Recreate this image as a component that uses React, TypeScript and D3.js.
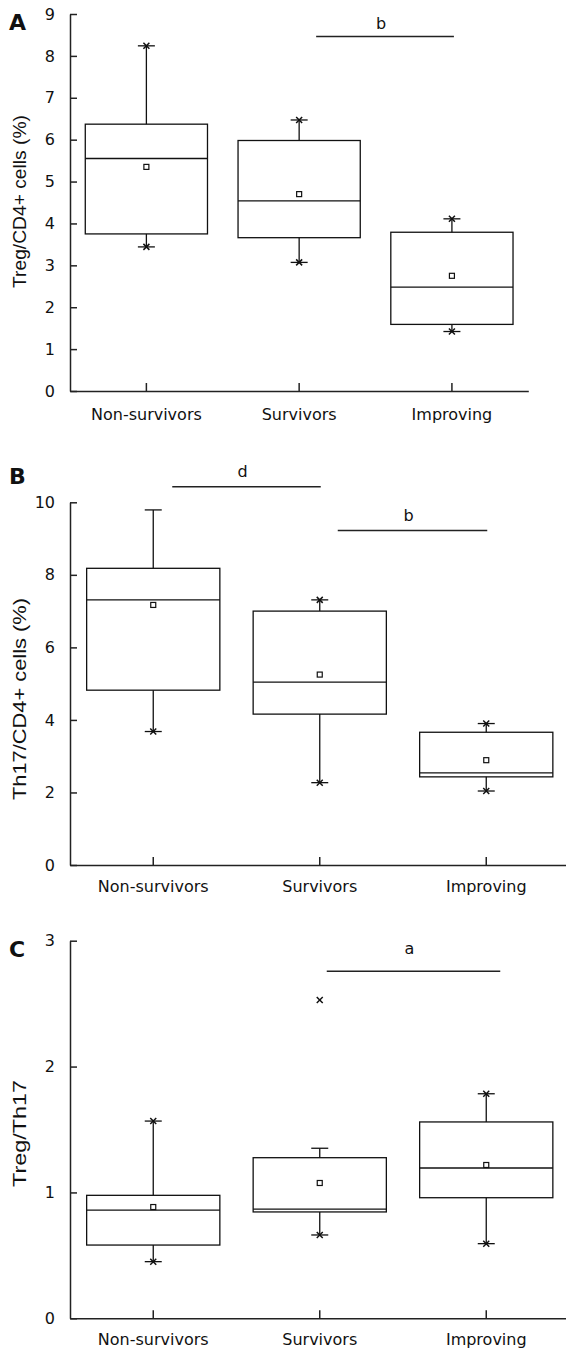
import React, { useRef, useEffect } from 'react';
import * as d3 from 'd3';

const categories = ['Non-survivors', 'Survivors', 'Improving'];

// A: Treg/CD4+ cells (%)
const tregLow = [3.44, 3.07, 1.42];
const tregQ1 = [3.75, 3.66, 1.59];
const tregMedian = [5.55, 4.54, 2.48];
const tregQ3 = [6.37, 5.98, 3.79];
const tregHigh = [8.24, 6.47, 4.11];
const tregMean = [5.35, 4.7, 2.75];
const tregCrosses = [[3.44, 8.24], [3.07, 6.47], [1.42, 4.11]];
const tregTicks = [0, 1, 2, 3, 4, 5, 6, 7, 8, 9];
const tregSig = [{ from: 'Survivors', to: 'Improving', value: 8.46, label: 'b' }];

// B: Th17/CD4+ cells (%)
const th17Low = [3.68, 2.27, 2.04];
const th17Q1 = [4.82, 4.16, 2.43];
const th17Median = [7.31, 5.04, 2.54];
const th17Q3 = [8.18, 7.0, 3.66];
const th17High = [9.79, 7.31, 3.9];
const th17Mean = [7.17, 5.25, 2.89];
const th17Crosses = [[3.68], [2.27, 7.31], [2.04, 3.9]];
const th17Ticks = [0, 2, 4, 6, 8, 10];
const th17Sig = [
  { from: 'Non-survivors', to: 'Survivors', value: 10.43, label: 'd' },
  { from: 'Survivors', to: 'Improving', value: 9.22, label: 'b' },
];

// C: Treg/Th17
const ratioLow = [0.45, 0.662, 0.593];
const ratioQ1 = [0.582, 0.845, 0.958];
const ratioMedian = [0.86, 0.868, 1.194];
const ratioQ3 = [0.977, 1.276, 1.56];
const ratioHigh = [1.567, 1.351, 1.784];
const ratioMean = [0.884, 1.075, 1.218];
const ratioCrosses = [[0.45, 1.567], [0.662, 2.529], [0.593, 1.784]];
const ratioTicks = [0, 1, 2, 3];
const ratioSig = [{ from: 'Survivors', to: 'Improving', value: 2.757, label: 'a' }];

const W = 566;
const H = 1349;
const tickFont = '"DejaVu Sans", Verdana, sans-serif';
const titleFont = '"Liberation Sans", Arial, sans-serif';

const panels = [
  {
    letter: 'A', letterY: 30, title: 'Treg/CD4+ cells (%)', titleY: 201.5, titleLen: 173,
    top: 14, bottom: 391, right: 528.3, domain: [0, 9], ticks: tregTicks,
    low: tregLow, q1: tregQ1, median: tregMedian, q3: tregQ3, high: tregHigh, mean: tregMean,
    crosses: tregCrosses, sig: tregSig, sigInset: [[17, 2]], sigGap: 8, catGap: 28.7,
  },
  {
    letter: 'B', letterY: 484, title: 'Th17/CD4+ cells (%)', titleY: 699, titleLen: 202,
    top: 502.3, bottom: 865, right: 569.5, domain: [0, 10], ticks: th17Ticks,
    low: th17Low, q1: th17Q1, median: th17Median, q3: th17Q3, high: th17High, mean: th17Mean,
    crosses: th17Crosses, sig: th17Sig, sigInset: [[19, 1], [18, 1]], sigGap: 10, catGap: 27,
  },
  {
    letter: 'C', letterY: 957, title: 'Treg/Th17', titleY: 1133.5, titleLen: 107,
    top: 940.7, bottom: 1318.3, right: 569.5, domain: [0, 3], ticks: ratioTicks,
    low: ratioLow, q1: ratioQ1, median: ratioMedian, q3: ratioQ3, high: ratioHigh, mean: ratioMean,
    crosses: ratioCrosses, sig: ratioSig, sigInset: [[7, 14]], sigGap: 17.5, catGap: 26.7,
  },
];

export default function App() {
  const ref = useRef<SVGSVGElement>(null);

  useEffect(() => {
    if (!ref.current) return;
    const svg = d3.select(ref.current);
    svg.selectAll('*').remove();
    const left = 70;

    panels.forEach((p) => {
      const g = svg.append('g');
      const x = d3.scaleBand<string>().domain(categories).range([left, p.right]);
      const y = d3.scaleLinear().domain(p.domain).range([p.bottom, p.top]);
      const cx = (c: string) => (x(c) ?? 0) + x.bandwidth() / 2;
      const bw = x.bandwidth() * 0.8;

      // axes
      const yAxis = g.append('g').attr('transform', `translate(${left},0)`)
        .call(d3.axisLeft(y).tickValues(p.ticks).tickFormat(d3.format('d')).tickSize(-7).tickPadding(15).tickSizeOuter(0));
      yAxis.select('.domain').attr('stroke', '#222').attr('stroke-width', 1.5);
      yAxis.selectAll('.tick line').attr('stroke', '#222').attr('stroke-width', 1.5);
      yAxis.selectAll('.tick text').attr('font-family', tickFont).attr('font-size', 16).attr('fill', '#111');

      const xAxis = g.append('g').attr('transform', `translate(0,${p.bottom})`)
        .call(d3.axisBottom(x).tickSize(-8).tickPadding(0).tickSizeOuter(0));
      xAxis.select('.domain').attr('stroke', '#222').attr('stroke-width', 1.5);
      xAxis.selectAll('.tick line').attr('stroke', '#222').attr('stroke-width', 1.5);
      xAxis.selectAll('.tick text').attr('font-family', tickFont).attr('font-size', 16).attr('fill', '#111')
        .attr('dy', null).attr('y', p.catGap);

      // panel letter and axis title
      g.append('text').attr('x', 9).attr('y', p.letterY).text(p.letter)
        .attr('font-family', tickFont).attr('font-weight', 'bold').attr('font-size', 22).attr('fill', '#111');
      g.append('text').attr('transform', `translate(26,${p.titleY}) rotate(-90)`)
        .attr('text-anchor', 'middle').attr('font-family', titleFont).attr('font-size', 19).attr('fill', '#111')
        .attr('textLength', p.titleLen).attr('lengthAdjust', 'spacingAndGlyphs').text(p.title);

      // boxes
      categories.forEach((c, i) => {
        const xc = cx(c);
        const line = (x1: number, y1: number, x2: number, y2: number) =>
          g.append('line').attr('x1', x1).attr('y1', y1).attr('x2', x2).attr('y2', y2)
            .attr('stroke', '#111').attr('stroke-width', 1.3);
        line(xc, y(p.high[i]), xc, y(p.q3[i]));
        line(xc, y(p.q1[i]), xc, y(p.low[i]));
        line(xc - 8.5, y(p.high[i]), xc + 8.5, y(p.high[i]));
        line(xc - 8.5, y(p.low[i]), xc + 8.5, y(p.low[i]));
        g.append('rect').attr('x', xc - bw / 2).attr('y', y(p.q3[i]))
          .attr('width', bw).attr('height', y(p.q1[i]) - y(p.q3[i]))
          .attr('fill', 'none').attr('stroke', '#111').attr('stroke-width', 1.3);
        line(xc - bw / 2, y(p.median[i]), xc + bw / 2, y(p.median[i]));
        g.append('rect').attr('x', xc - 2.5).attr('y', y(p.mean[i]) - 2.5).attr('width', 5).attr('height', 5)
          .attr('fill', '#fff').attr('stroke', '#111').attr('stroke-width', 1.2);
        p.crosses[i].forEach((v) => {
          const yy = y(v);
          line(xc - 3, yy - 3, xc + 3, yy + 3).attr('stroke-width', 1.5);
          line(xc - 3, yy + 3, xc + 3, yy - 3).attr('stroke-width', 1.5);
        });
      });

      // significance bars
      p.sig.forEach((s, k) => {
        const x0 = cx(s.from) + p.sigInset[k][0];
        const x1 = cx(s.to) + p.sigInset[k][1];
        const yy = y(s.value);
        g.append('line').attr('x1', x0).attr('x2', x1).attr('y1', yy).attr('y2', yy)
          .attr('stroke', '#222').attr('stroke-width', 1.5);
        g.append('text').attr('x', (x0 + x1) / 2 - 4).attr('y', yy - p.sigGap)
          .attr('text-anchor', 'middle').attr('font-family', tickFont).attr('font-size', 16).attr('fill', '#111')
          .text(s.label);
      });
    });
  }, []);

  return (
    <div style={{ position: 'absolute', left: 0, top: 0, width: W, height: H, background: '#fff' }}>
      <svg ref={ref} width={W} height={H} style={{ display: 'block' }} />
    </div>
  );
}
